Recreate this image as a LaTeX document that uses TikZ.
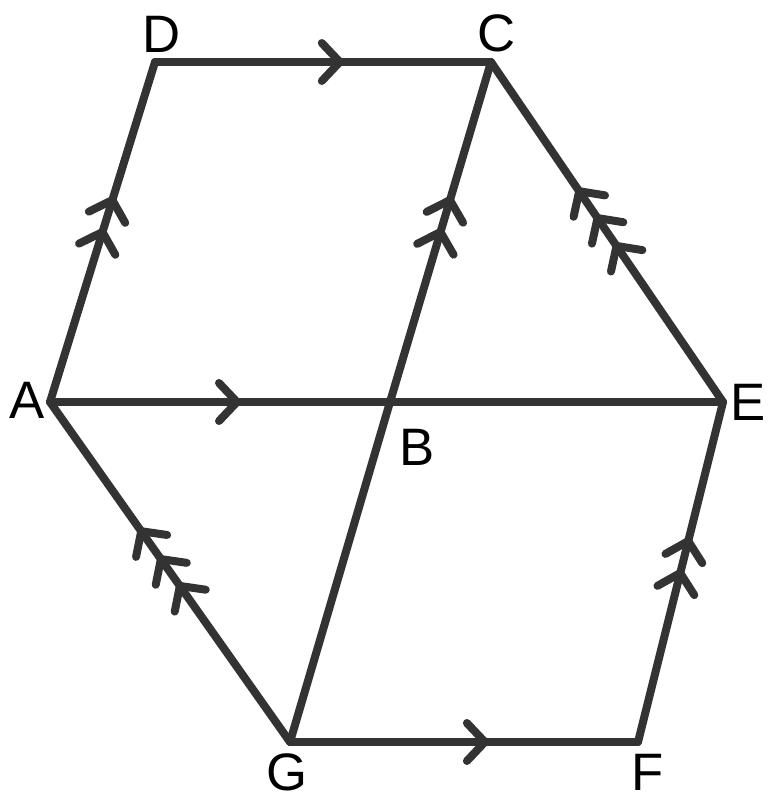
\documentclass[tikz,border=0pt]{standalone}
\usepackage{fontspec}
\setmainfont{Liberation Sans}
\usepackage{tikz}
\usetikzlibrary{decorations.markings}
\definecolor{edgegray}{HTML}{333333}

\begin{document}
\begin{tikzpicture}[x=0.02cm,y=-0.02cm,line width=0.16cm,line cap=round,line join=round,color=edgegray]
                \tikzset{lbl/.style={text=black, inner sep=0pt, font=\fontsize{30}{36}\selectfont}}
                \tikzset{chev/.style={postaction={decorate,decoration={markings,
                    mark=at position #1 with {\draw[edgegray] (-0.36cm,0.38cm) -- (0,0) -- (-0.36cm,-0.38cm);}}}}}
                \useasboundingbox (0,0) rectangle (774,811);
                \coordinate (A) at (50,402);
                \coordinate (B) at (390,402);
                \coordinate (C) at (491,62);
                \coordinate (D) at (155,62);
                \coordinate (E) at (723,402);
                \coordinate (F) at (638,742);
                \coordinate (G) at (290,742);
                \node[lbl] (lA) at (27,400) {A};
                \node[lbl] (lB) at (417,447) {B};
                \node[lbl] (lC) at (497,33) {C};
                \node[lbl] (lD) at (162,34) {D};
                \node[lbl] (lE) at (748,402) {E};
                \node[lbl] (lF) at (648,772) {F};
                \node[lbl] (lG) at (287,772) {G};
                \draw[chev=0.55] (D) -- (C);
                \draw[chev=0.55] (A) -- (B);
                \draw (B) -- (E);
                \draw[chev=0.56] (G) -- (F);
                \draw[chev=0.5, chev=0.594] (A) -- (D);
                \draw[chev=0.5, chev=0.594] (B) -- (C);
                \draw[chev=0.497, chev=0.591] (F) -- (E);
                \draw (G) -- (B);
                \draw[chev=0.459, chev=0.541, chev=0.62] (E) -- (C);
                \draw[chev=0.459, chev=0.538, chev=0.62] (G) -- (A);
            \end{tikzpicture}
\end{document}
